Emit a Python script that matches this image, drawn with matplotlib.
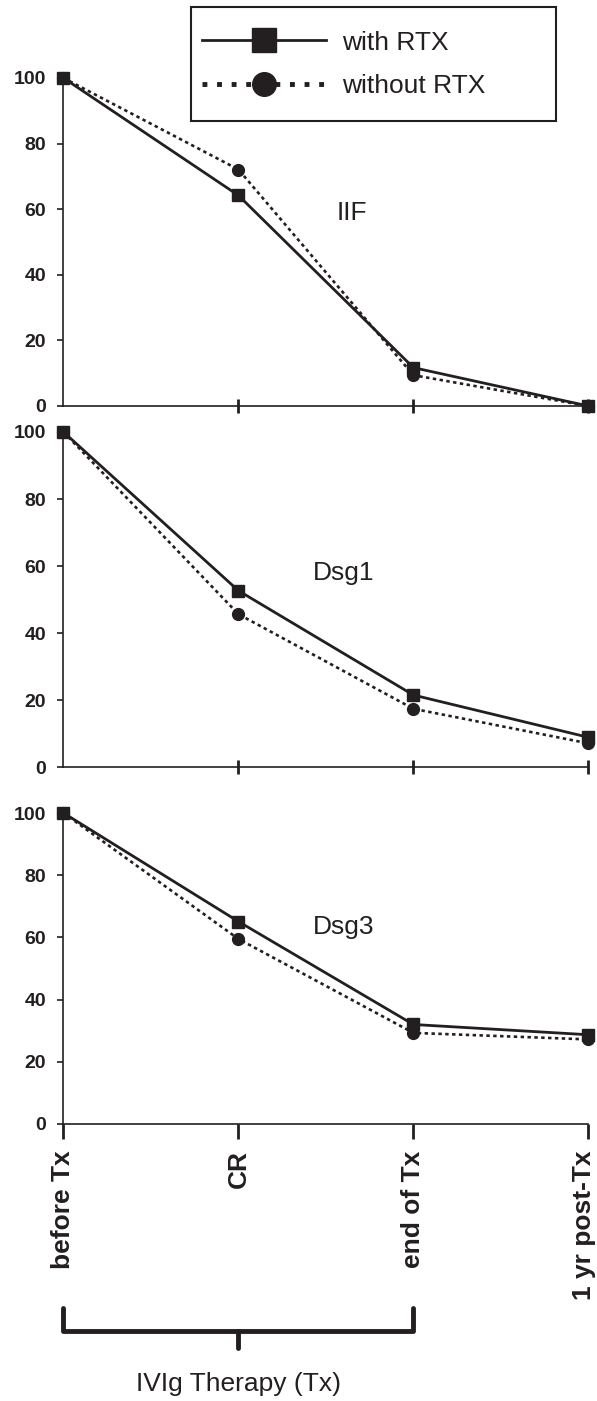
import matplotlib
matplotlib.use("Agg")
from matplotlib import pyplot as plt
from matplotlib.lines import Line2D
from matplotlib.patches import Rectangle
from matplotlib.transforms import blended_transform_factory, ScaledTranslation

plt.rcParams['font.family'] = ['Liberation Sans', 'DejaVu Sans']

# time points
stages = ["before Tx", "CR", "end of Tx", "1 yr post-Tx"]
x_pos = [0, 1, 2, 3]

# percent of baseline titre
iif_with = [100, 64.2, 11.7, 0]
iif_without = [100, 72.1, 9.4, 0]
dsg1_with = [100, 52.7, 21.6, 9.0]
dsg1_without = [100, 45.7, 17.5, 7.2]
dsg3_with = [100, 65.1, 32.0, 28.7]
dsg3_without = [100, 59.5, 29.3, 27.2]

panel_names = ["IIF", "Dsg1", "Dsg3"]
panel_text_pos = [(1.65, 58.7), (1.6, 58), (1.6, 63.2)]

ink = '#231f20'

fig = plt.figure(figsize=(5.97, 14.01), dpi=100)

W = 597.0
H = 1401.0
left = 63.5 / W
width = (588.3 - 63.5) / W
# (top px, bottom px) for each panel
panel_px = [(78, 406), (432, 767.5), (813, 1124)]

data = [(iif_with, iif_without), (dsg1_with, dsg1_without), (dsg3_with, dsg3_without)]

axes = []
for i, (top, bot) in enumerate(panel_px):
    ax = fig.add_axes([left, 1 - bot / H, width, (bot - top) / H])
    w, wo = data[i]
    ax.plot(x_pos, w, color=ink, lw=2.0, ls='-', marker='s',
            ms=8, clip_on=False, zorder=3)
    ax.plot(x_pos, wo, color=ink, lw=1.9, ls=(0, (1.3, 1.3)), marker='o',
            ms=8.5, clip_on=False, zorder=4)
    ax.set_xlim(0, 3)
    ax.set_ylim(0, 100)
    ax.set_yticks([0, 20, 40, 60, 80, 100])
    for s in ['top', 'right']:
        ax.spines[s].set_visible(False)
    for s in ['left', 'bottom']:
        ax.spines[s].set_linewidth(1.2)
        ax.spines[s].set_color(ink)
    ax.tick_params(axis='y', direction='out', length=4.5, width=1.2, colors=ink,
                   labelsize=14, pad=8)
    for lab in ax.get_yticklabels():
        lab.set_fontweight('bold')
    tx, ty = panel_text_pos[i]
    ax.text(tx, ty, panel_names[i], fontsize=19, color=ink, ha='center', va='center')
    axes.append(ax)

for ax in axes[:2]:
    ax.set_xticks(x_pos[1:])
    ax.set_xticklabels([])
    ax.tick_params(axis='x', direction='inout', length=10, width=2, colors=ink)

ax3 = axes[2]
ax3.set_xticks(x_pos)
ax3.set_xticklabels(stages, rotation=90, fontsize=19, fontweight='bold', va='top', ha='center')
ax3.tick_params(axis='x', direction='out', length=11, width=2, colors=ink, pad=8)
# nudge last label a little left so it stays inside the figure
last = ax3.get_xticklabels()[-1]
last.set_transform(last.get_transform() + ScaledTranslation(-4 / 100, 0, fig.dpi_scale_trans))

# bracket under the therapy period
tr = blended_transform_factory(ax3.transData, fig.transFigure)
y_top = 1 - 1308 / H
y_h = 1 - 1331 / H
y_dip = 1 - 1348 / H
fig.add_artist(Line2D([x_pos[0], x_pos[0], x_pos[2], x_pos[2]], [y_top, y_h, y_h, y_top],
                      transform=tr, color=ink, lw=3.5, solid_joinstyle='round',
                      solid_capstyle='round'))
fig.add_artist(Line2D([x_pos[1], x_pos[1]], [y_h, y_dip], transform=tr, color=ink,
                      lw=3.5, solid_capstyle='round'))
fig.text(x_pos[1], 1 - 1384 / H, "IVIg Therapy (Tx)", transform=tr, fontsize=19,
         color=ink, ha='center', va='center')

# legend
handles = [
    Line2D([], [], color=ink, lw=2, ls='-', marker='s', ms=17),
    Line2D([], [], color=ink, lw=3.5, ls=(0, (1, 2)), marker='o', ms=17),
]
fig.legend(handles, ["with RTX", "without RTX"], loc='center left',
           bbox_to_anchor=(202 / W, 1 - 64.5 / H), frameon=False, fontsize=19,
           borderpad=0, borderaxespad=0, handlelength=4.7, handletextpad=0.6,
           labelspacing=0.75, labelcolor=ink)
fig.add_artist(Rectangle((191 / W, 1 - 121 / H), (556 - 191) / W, (121 - 7) / H,
                         transform=fig.transFigure, fill=False, edgecolor=ink, lw=1.5))

fig.savefig("out.png", dpi=100)
